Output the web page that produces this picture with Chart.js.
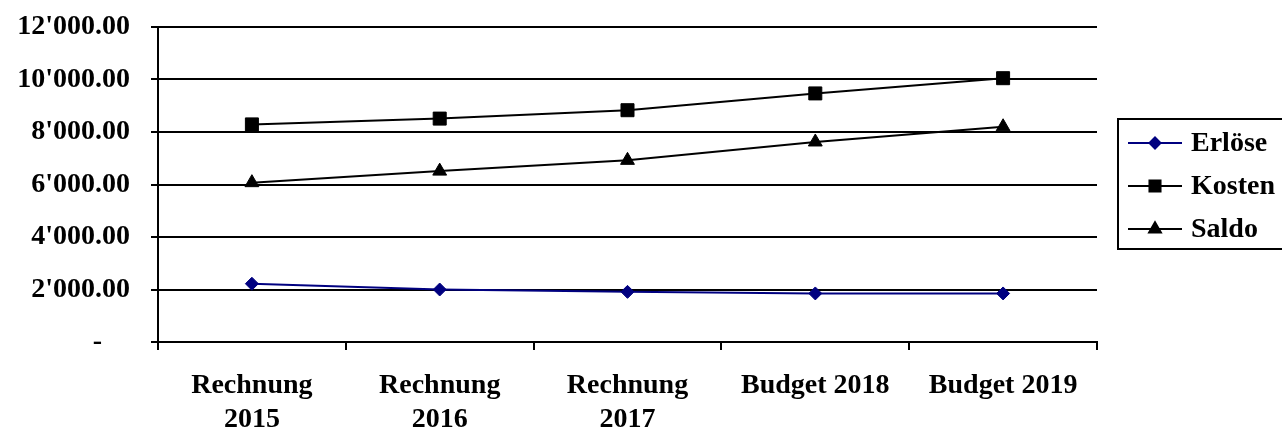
<!DOCTYPE html>
<html>
<head>
<meta charset="utf-8">
<script src="https://cdn.jsdelivr.net/npm/chart.js@4.4.1/dist/chart.umd.min.js"></script>
<style>
  html, body { margin: 0; padding: 0; background: #fff; }
  #wrap { width: 1282px; height: 431px; }
</style>
</head>
<body>
<div id="wrap"><canvas id="c" width="1282" height="431"></canvas></div>
<script>
// Categories along the x axis (multi-line labels where wrapped)
const categories = [
  ['Rechnung', '2015'],
  ['Rechnung', '2016'],
  ['Rechnung', '2017'],
  'Budget 2018',
  'Budget 2019'
];

// Series values
const erloese = [2220, 2000, 1910, 1850, 1850];
const kosten  = [8290, 8510, 8830, 9470, 10050];
const saldo   = [6070, 6510, 6920, 7620, 8200];

// Value axis range
const yMin = 0;
const yMax = 12000;
const yStep = 2000;

const FONT = "'Liberation Serif', 'DejaVu Serif', serif";
const FONT_SIZE = 28;

function fmtNumber(v) {
  if (v === 0) return '-    ';
  const parts = v.toFixed(2).split('.');
  parts[0] = parts[0].replace(/\B(?=(\d{3})+(?!\d))/g, "'");
  return parts.join('.');
}

// Boxed legend at the right, drawn from the dataset definitions
const boxLegend = {
  id: 'boxLegend',
  afterDraw(chart) {
    const ctx = chart.ctx;
    const ds = chart.data.datasets;
    const left = 1118, top = 119, bottom = 249, right = 1284;
    ctx.save();
    ctx.lineWidth = 2;
    ctx.strokeStyle = '#000';
    ctx.strokeRect(left, top, right - left, bottom - top);
    const rowY = [143, 186, 229];
    ds.forEach((d, i) => {
      const y = rowY[i];
      ctx.beginPath();
      ctx.strokeStyle = d.borderColor;
      ctx.lineWidth = 2;
      ctx.moveTo(1128, y);
      ctx.lineTo(1182, y);
      ctx.stroke();
      ctx.fillStyle = d.borderColor;
      ctx.strokeStyle = d.borderColor;
      Chart.helpers.drawPoint(ctx, {
        pointStyle: d.pointStyle,
        radius: d.pointRadius * 0.85,
        rotation: 0,
        borderWidth: 1
      }, 1155, y);
      ctx.fillStyle = '#000';
      ctx.font = "bold " + FONT_SIZE + "px " + FONT;
      ctx.textAlign = 'left';
      ctx.textBaseline = 'middle';
      ctx.fillText(d.label, 1191, y + 1);
    });
    ctx.restore();
  }
};

new Chart(document.getElementById('c'), {
  type: 'line',
  data: {
    labels: categories,
    datasets: [
      {
        label: 'Erlöse',
        data: erloese,
        borderColor: '#000080',
        backgroundColor: '#000080',
        borderWidth: 2,
        pointStyle: 'rectRot',
        pointRadius: 6.5,
        pointBorderWidth: 1
      },
      {
        label: 'Kosten',
        data: kosten,
        borderColor: '#000000',
        backgroundColor: '#000000',
        borderWidth: 2,
        pointStyle: 'rect',
        pointRadius: 9.2,
        pointBorderWidth: 1
      },
      {
        label: 'Saldo',
        data: saldo,
        borderColor: '#000000',
        backgroundColor: '#000000',
        borderWidth: 2,
        pointStyle: 'triangle',
        pointRadius: 8,
        pointBorderWidth: 1
      }
    ]
  },
  options: {
    responsive: false,
    animation: false,
    devicePixelRatio: 1,
    layout: { padding: { top: 27, right: 185, bottom: 0, left: 0 } },
    elements: { line: { tension: 0 } },
    plugins: {
      legend: { display: false },
      tooltip: { enabled: false }
    },
    scales: {
      x: {
        type: 'category',
        offset: true,
        afterFit(s) { s.height = 89; s.paddingLeft = 0; s.paddingRight = 0; },
        grid: {
          display: true,
          offset: true,
          drawOnChartArea: false,
          drawTicks: true,
          tickLength: 8,
          color: '#000',
          lineWidth: 2
        },
        border: { display: true, color: '#000', width: 2 },
        ticks: {
          color: '#000',
          padding: 19,
          maxRotation: 0,
          autoSkip: false,
          font: { family: FONT, weight: 'bold', size: FONT_SIZE, lineHeight: 34 / FONT_SIZE }
        }
      },
      y: {
        min: yMin,
        max: yMax,
        afterFit(s) { s.width = 158; s.paddingTop = 0; s.paddingBottom = 0; },
        grid: {
          color: '#000',
          lineWidth: 2,
          drawTicks: true,
          tickLength: 7
        },
        border: { display: true, color: '#000', width: 2 },
        ticks: {
          stepSize: yStep,
          color: '#000',
          padding: 21,
          callback: (v) => fmtNumber(v),
          font: { family: FONT, weight: 'bold', size: FONT_SIZE }
        }
      }
    }
  },
  plugins: [boxLegend]
});
</script>
</body>
</html>
